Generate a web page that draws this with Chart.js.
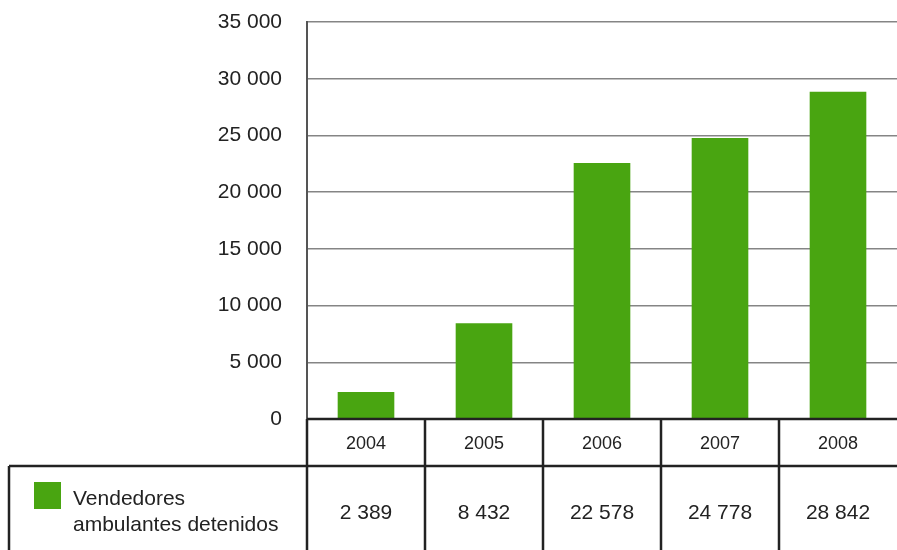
<!DOCTYPE html>
<html><head><meta charset="utf-8">
<script src="https://cdn.jsdelivr.net/npm/chart.js@4"></script>
<style>html,body{margin:0;padding:0;background:#fff}#wrap{width:897px;height:550px;position:relative}</style>
</head><body><div id="wrap"><canvas id="c"></canvas></div>
<script>
const categories = ['2004','2005','2006','2007','2008'];
const values = [2389, 8432, 22578, 24778, 28842];
const valueLabels = ['2 389','8 432','22 578','24 778','28 842'];
const seriesName = ['Vendedores','ambulantes detenidos'];
const yTicks = [0,5000,10000,15000,20000,25000,30000,35000];
const GREEN = '#49A511';
const FONT = '"Liberation Sans", Arial, sans-serif';

function fmt(v){ return String(v).replace(/\B(?=(\d{3})+(?!\d))/g,' '); }

const tablePlugin = {
  id:'tablePlugin',
  afterDraw(chart){
    const ctx = chart.ctx, x = chart.scales.x, a = chart.chartArea;
    const n = categories.length, cw = (a.right - a.left)/n;
    const top = a.bottom, mid = top + 47, bot = 552, leftBox = 9;
    ctx.save();
    ctx.strokeStyle = '#222'; ctx.lineWidth = 2.5;
    ctx.beginPath();
    ctx.moveTo(a.left, top); ctx.lineTo(a.right, top);
    ctx.moveTo(leftBox, mid); ctx.lineTo(a.right, mid);
    ctx.moveTo(leftBox, mid); ctx.lineTo(leftBox, bot);
    for (let i=0;i<n;i++){
      const xl = x.getPixelForValue(i) - cw/2;
      ctx.moveTo(xl, top); ctx.lineTo(xl, bot);
    }
    ctx.stroke();
    ctx.fillStyle = '#222'; ctx.textAlign='center'; ctx.textBaseline='middle';
    for (let i=0;i<n;i++){
      const cx = x.getPixelForValue(i);
      ctx.font = '18px '+FONT;
      ctx.fillText(categories[i], cx, (top+mid)/2+2);
      ctx.font = '21px '+FONT;
      ctx.fillText(valueLabels[i], cx, (mid+bot)/2 + 4);
    }
    ctx.fillStyle = GREEN;
    ctx.fillRect(34, 482, 27, 27);
    ctx.fillStyle = '#222'; ctx.textAlign='left';
    ctx.font = '21px '+FONT;
    ctx.fillText(seriesName[0], 73, 499);
    ctx.fillText(seriesName[1], 73, 525);
    ctx.restore();
  }
};

new Chart(document.getElementById('c'), {
  type:'bar',
  data:{ labels:categories, datasets:[{ label:seriesName.join(' '), data:values, backgroundColor:GREEN, categoryPercentage:1, barPercentage:0.48 }]},
  options:{
    responsive:true, maintainAspectRatio:false, animation:false,
    layout:{ padding:{ top:22, right:0, bottom:131, left:0 } },
    plugins:{ legend:{display:false}, tooltip:{enabled:false} },
    scales:{
      x:{ display:false },
      y:{
        min:0, max:35000,
        afterBuildTicks(s){ s.ticks = yTicks.map(v=>({value:v})); },
        afterFit(s){ s.width = 307; s.paddingTop = 0; s.paddingBottom = 0; },
        ticks:{ color:'#222', font:{family:FONT, size:21}, padding:25, callback:v=>fmt(v) },
        grid:{ color:'#858585', lineWidth:1.5, drawTicks:false },
        border:{ display:true, color:'#555', width:2 }
      }
    }
  },
  plugins:[tablePlugin]
});
</script></body></html>
